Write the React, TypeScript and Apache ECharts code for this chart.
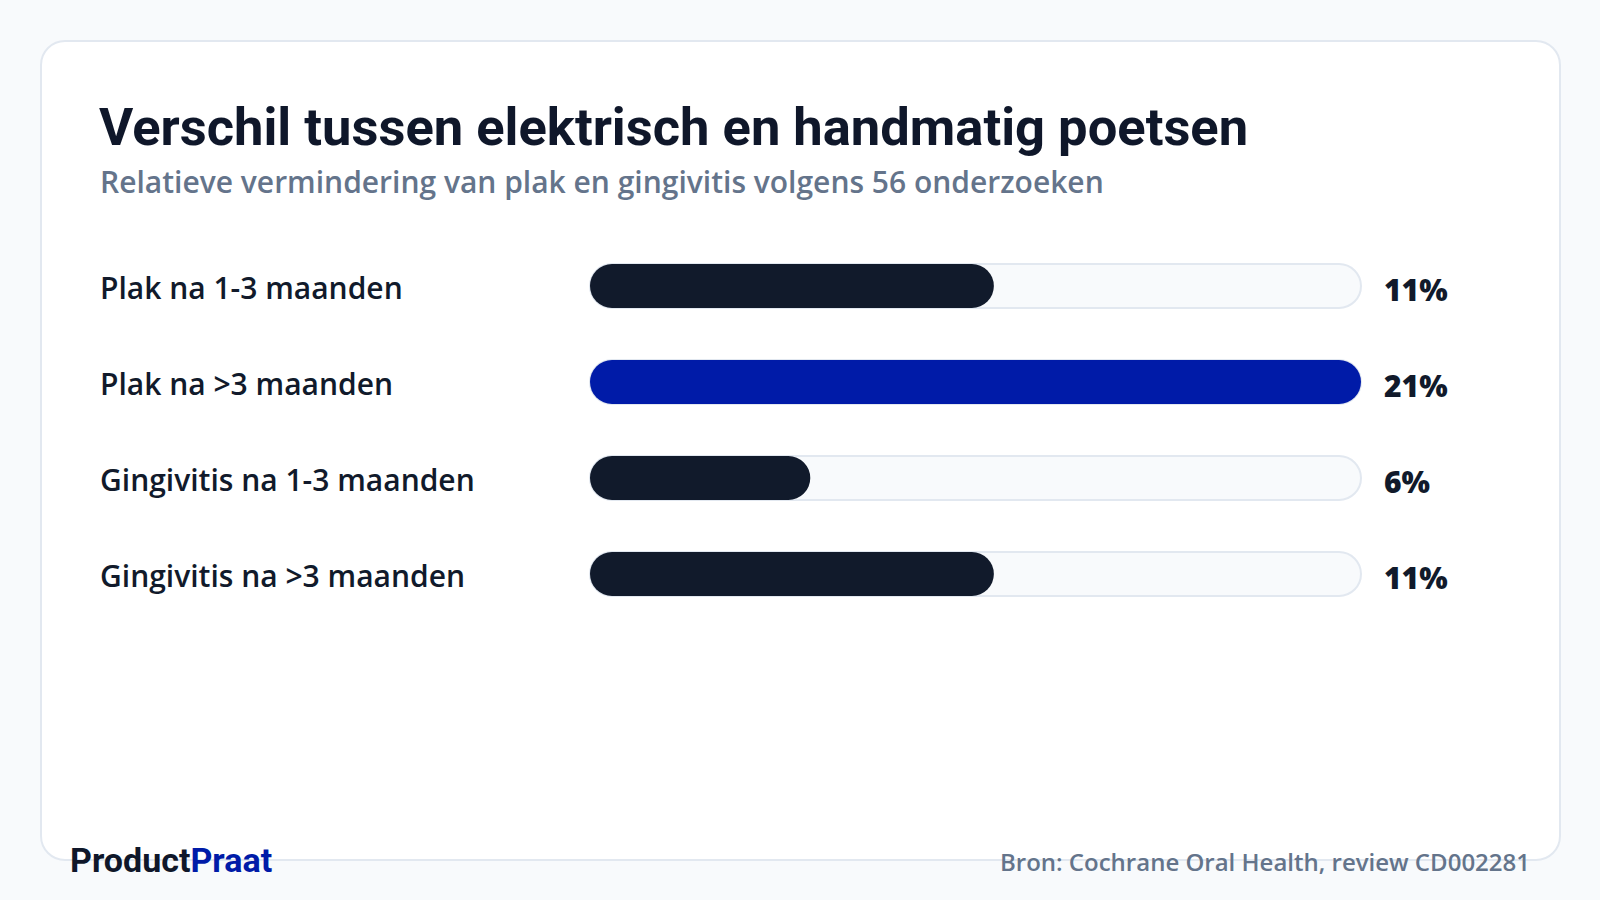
import React, { useEffect, useRef } from "react";
import * as echarts from "echarts";

const categories = [
  "Plak na 1-3 maanden",
  "Plak na >3 maanden",
  "Gingivitis na 1-3 maanden",
  "Gingivitis na >3 maanden",
];
const reductionPct = [11, 21, 6, 11];
const scaleMax = 21;

const DARK = "#111a2b";
const BLUE = "#001ba8";
const MUTED = "#64748b";
const TEXT_FONT = "'Open Sans', 'Noto Sans', sans-serif";

export default function App() {
  const ref = useRef<HTMLDivElement>(null);

  useEffect(() => {
    if (!ref.current) return;
    const chart = echarts.init(ref.current, null, { renderer: "svg" });
    const top = Math.max(...reductionPct);

    chart.setOption({
      animation: false,
      backgroundColor: "#f8fafc",
      graphic: [
        {
          type: "rect",
          z: -10,
          shape: { x: 41, y: 41, width: 1519, height: 819, r: 24 },
          style: { fill: "#ffffff", stroke: "#e2e8f0", lineWidth: 2 },
        },
        {
          type: "text",
          x: 99,
          y: 127,
          style: {
            text: "Verschil tussen elektrisch en handmatig poetsen",
            font: "700 52.5px Roboto, sans-serif",
            fill: "#0f172a",
            verticalAlign: "middle",
          },
        },
        {
          type: "text",
          x: 100,
          y: 181,
          style: {
            text: "Relatieve vermindering van plak en gingivitis volgens 56 onderzoeken",
            font: `600 30px ${TEXT_FONT}`,
            fill: MUTED,
            verticalAlign: "middle",
          },
        },
        {
          type: "text",
          x: 70,
          y: 860,
          style: {
            text: "{a|Product}{b|Praat}",
            verticalAlign: "middle",
            rich: {
              a: { fontFamily: "Roboto", fontWeight: 700, fontSize: 34, fill: "#0f172a" },
              b: { fontFamily: "Roboto", fontWeight: 700, fontSize: 34, fill: BLUE },
            },
          },
        },
        {
          type: "text",
          x: 1530,
          y: 861,
          style: {
            text: "Bron: Cochrane Oral Health, review CD002281",
            font: `600 24px ${TEXT_FONT}`,
            fill: MUTED,
            align: "right",
            verticalAlign: "middle",
          },
        },
      ],
      grid: { left: 590, right: 239, top: 238, bottom: 278, containLabel: false },
      xAxis: {
        type: "value",
        min: 0,
        max: scaleMax,
        show: false,
      },
      yAxis: [
        {
          type: "category",
          data: categories,
          inverse: true,
          axisLine: { show: false },
          axisTick: { show: false },
          splitLine: { show: false },
          axisLabel: {
            align: "left",
            margin: 490,
            formatter: (v: string) => `{c|${v}}`,
            rich: {
              c: {
                fontFamily: TEXT_FONT,
                fontWeight: 600,
                fontSize: 30,
                color: DARK,
                padding: [2, 0, 0, 0],
              },
            },
          },
        },
        {
          type: "category",
          data: reductionPct.map((v) => `${v}%`),
          inverse: true,
          position: "right",
          axisLine: { show: false },
          axisTick: { show: false },
          splitLine: { show: false },
          axisLabel: {
            align: "left",
            margin: 23,
            formatter: (v: string) => `{v|${v}}`,
            rich: {
              v: {
                fontFamily: TEXT_FONT,
                fontWeight: 800,
                fontSize: 30,
                color: DARK,
                padding: [6, 0, 0, 0],
              },
            },
          },
        },
      ],
      series: [
        {
          type: "bar",
          yAxisIndex: 0,
          barWidth: 44,
          showBackground: true,
          backgroundStyle: {
            color: "#f8fafc",
            borderColor: "#e2e8f0",
            borderWidth: 2,
            borderRadius: 22,
          },
          data: reductionPct.map((v) => ({
            value: v,
            itemStyle: { color: v === top ? BLUE : DARK, borderRadius: 22 },
          })),
        },
      ],
    });

    return () => chart.dispose();
  }, []);

  return (
    <div
      ref={ref}
      style={{ position: "fixed", left: 0, top: 0, width: 1600, height: 900 }}
    />
  );
}
